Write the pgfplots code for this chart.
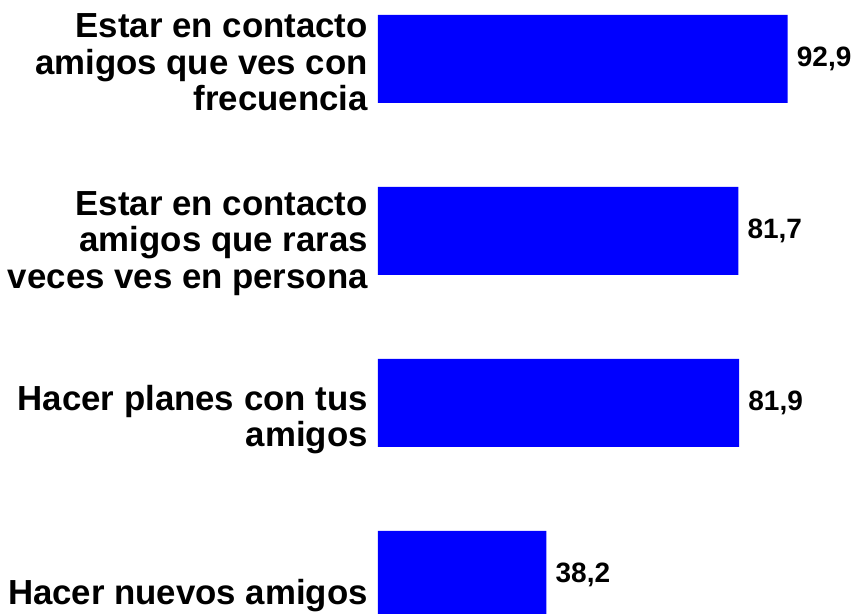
\documentclass[border=0pt]{standalone}
\usepackage{fontspec}
\setmainfont{Liberation Sans}
\usepackage{pgfplots}
\pgfplotsset{compat=1.18}
\definecolor{barblue}{RGB}{0,0,255}
\begin{document}
\begin{tikzpicture}
\begin{axis}[
    xbar,
    scale only axis,
    width=480bp, height=614bp,
    xmin=0, xmax=108.84,
    ymin=0.773, ymax=4.343,
    bar width=88bp,
    hide x axis,
    axis line style={draw=none},
    major tick length=0pt,
    ytick={3.980,2.927,1.904,0.881},
    yticklabels={
        {Estar en contacto\\amigos que ves con\\frecuencia},
        {Estar en contacto\\amigos que raras\\veces ves en persona},
        {Hacer planes con tus\\amigos},
        {Hacer nuevos amigos}},
    yticklabel style={align=right, inner sep=0pt, xshift=-10bp,
        font=\fontsize{34.8bp}{36.5bp}\selectfont\bfseries},
    nodes near coords,
    nodes near coords style={anchor=west, inner sep=0pt, xshift=9bp,
        font=\fontsize{28bp}{32bp}\selectfont\bfseries, text=black},
    /pgf/number format/.cd, use comma, fixed, fixed zerofill, precision=1,
    assume math mode=true,
]
\addplot[draw=none, fill=barblue] coordinates {
    (92.9,4) (81.7,3) (81.9,2) (38.2,1)
};
\end{axis}
\pgfresetboundingbox
\path (current axis.south west) ++(-378bp,0pt) rectangle (current axis.north east);
\end{tikzpicture}
\end{document}
